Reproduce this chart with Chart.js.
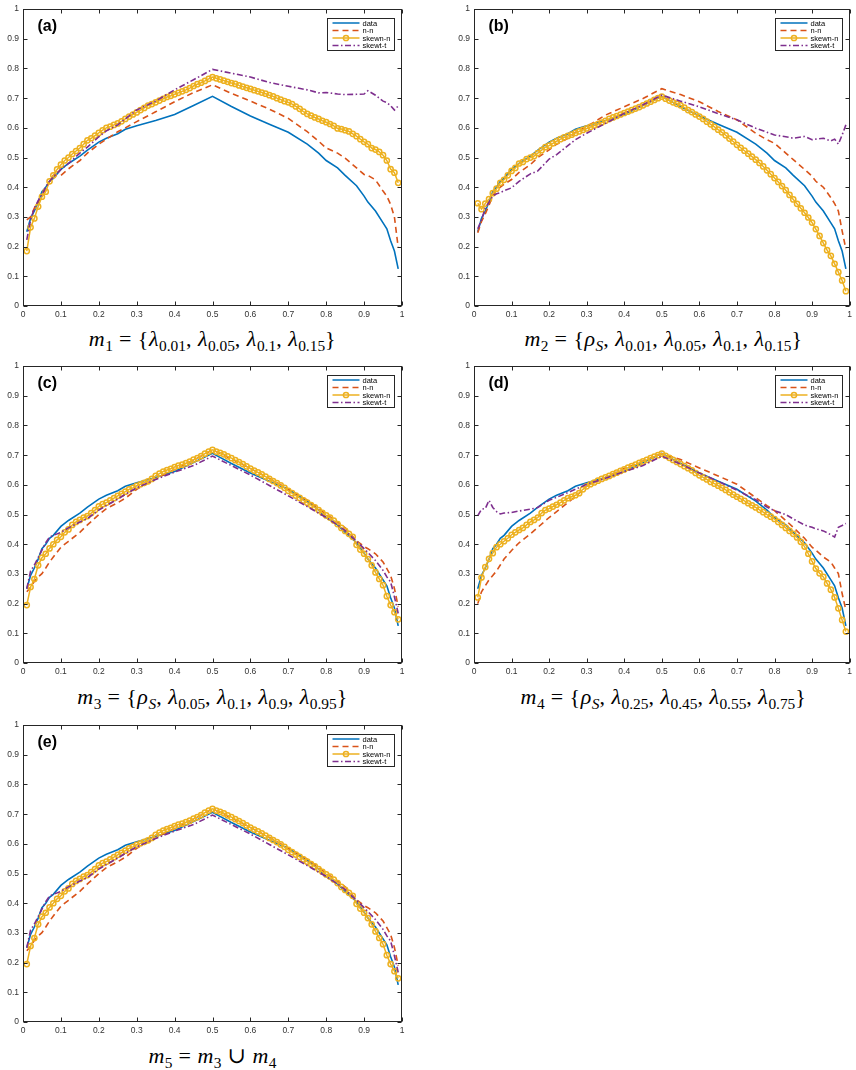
<!DOCTYPE html>
<html>
<head>
<meta charset="utf-8">
<script src="https://cdn.jsdelivr.net/npm/chart.js@4.4.1/dist/chart.umd.min.js"></script>
<style>
  html, body { margin: 0; padding: 0; background: #fff; overflow: hidden; }
  body { width: 856px; height: 1070px; position: relative; }
  .panel { position: absolute; }
  .cap {
    position: absolute; text-align: center; white-space: nowrap;
    font-family: "Liberation Serif", "DejaVu Serif", serif; font-size: 22px;
    letter-spacing: 0.5px; line-height: 22px; height: 22px; color: #000;
  }
  .cap sub { font-size: 70%; vertical-align: -0.35em; line-height: 0; letter-spacing: 0; }
</style>
</head>
<body>
<canvas class="panel" id="chartA" width="410" height="322" style="left:0;top:0"></canvas>
<canvas class="panel" id="chartB" width="405" height="322" style="left:451px;top:0"></canvas>
<canvas class="panel" id="chartC" width="410" height="322" style="left:0;top:357px"></canvas>
<canvas class="panel" id="chartD" width="405" height="322" style="left:451px;top:357px"></canvas>
<canvas class="panel" id="chartE" width="410" height="322" style="left:0;top:716px"></canvas>

<div class="cap" style="left:23px;width:379px;top:328px"><i>m</i><sub>1</sub> = {<i>λ</i><sub>0.01</sub>, <i>λ</i><sub>0.05</sub>, <i>λ</i><sub>0.1</sub>, <i>λ</i><sub>0.15</sub>}</div>
<div class="cap" style="left:474px;width:379px;top:328px"><i>m</i><sub>2</sub> = {<i>ρ<sub>S</sub></i>, <i>λ</i><sub>0.01</sub>, <i>λ</i><sub>0.05</sub>, <i>λ</i><sub>0.1</sub>, <i>λ</i><sub>0.15</sub>}</div>
<div class="cap" style="left:23px;width:379px;top:686px"><i>m</i><sub>3</sub> = {<i>ρ<sub>S</sub></i>, <i>λ</i><sub>0.05</sub>, <i>λ</i><sub>0.1</sub>, <i>λ</i><sub>0.9</sub>, <i>λ</i><sub>0.95</sub>}</div>
<div class="cap" style="left:474px;width:379px;top:686px"><i>m</i><sub>4</sub> = {<i>ρ<sub>S</sub></i>, <i>λ</i><sub>0.25</sub>, <i>λ</i><sub>0.45</sub>, <i>λ</i><sub>0.55</sub>, <i>λ</i><sub>0.75</sub>}</div>
<div class="cap" style="left:23px;width:379px;top:1045px"><i>m</i><sub>5</sub> = <i>m</i><sub>3</sub> ∪ <i>m</i><sub>4</sub></div>

<script>
// x positions used by the plain lines (data, n-n, skewt-t)
const lineX = [0.01, 0.02, 0.03, 0.04, 0.05, 0.06, 0.07, 0.08, 0.10, 0.12,
  0.15, 0.17, 0.20, 0.22, 0.25, 0.27, 0.30, 0.35, 0.40, 0.45,
  0.50, 0.55, 0.60, 0.65, 0.70, 0.75, 0.78, 0.80, 0.83, 0.85,
  0.88, 0.90, 0.91, 0.93, 0.95, 0.96, 0.97, 0.98, 0.99];

// x positions of the skewn-n markers
const markX = [0.01, 0.02, 0.03, 0.04, 0.05, 0.06, 0.07, 0.08, 0.09, 0.10,
  0.11, 0.12, 0.13, 0.14, 0.15, 0.16, 0.17, 0.18, 0.19, 0.20,
  0.21, 0.22, 0.23, 0.24, 0.25, 0.26, 0.27, 0.28, 0.29, 0.30,
  0.31, 0.32, 0.33, 0.34, 0.35, 0.36, 0.37, 0.38, 0.39, 0.40,
  0.41, 0.42, 0.43, 0.44, 0.45, 0.46, 0.47, 0.48, 0.49, 0.50,
  0.51, 0.52, 0.53, 0.54, 0.55, 0.56, 0.57, 0.58, 0.59, 0.60,
  0.61, 0.62, 0.63, 0.64, 0.65, 0.66, 0.67, 0.68, 0.69, 0.70,
  0.71, 0.72, 0.73, 0.74, 0.75, 0.76, 0.77, 0.78, 0.79, 0.80,
  0.81, 0.82, 0.83, 0.84, 0.85, 0.86, 0.87, 0.88, 0.89, 0.90,
  0.91, 0.92, 0.93, 0.94, 0.95, 0.96, 0.97, 0.98, 0.99];

const xTicks = [0, 0.1, 0.2, 0.3, 0.4, 0.5, 0.6, 0.7, 0.8, 0.9, 1];
const yTicks = [0, 0.1, 0.2, 0.3, 0.4, 0.5, 0.6, 0.7, 0.8, 0.9, 1];
const seriesNames = ["data", "n-n", "skewn-n", "skewt-t"];

// empirical curve, the same in every panel
const dataY = [0.25, 0.295, 0.32, 0.35, 0.385, 0.40, 0.42, 0.43, 0.46, 0.48,
  0.505, 0.525, 0.552, 0.565, 0.58, 0.595, 0.607, 0.625, 0.645, 0.675,
  0.706, 0.672, 0.64, 0.612, 0.585, 0.545, 0.515, 0.49, 0.465, 0.44,
  0.405, 0.37, 0.35, 0.32, 0.28, 0.26, 0.22, 0.185, 0.125];

// panel (a)
const nnA = [0.29, 0.30, 0.33, 0.35, 0.37, 0.395, 0.42, 0.44, 0.44, 0.462,
  0.49, 0.515, 0.545, 0.562, 0.587, 0.60, 0.621, 0.654, 0.688, 0.719,
  0.745, 0.716, 0.69, 0.663, 0.632, 0.587, 0.555, 0.532, 0.515, 0.498,
  0.465, 0.443, 0.44, 0.425, 0.387, 0.37, 0.342, 0.30, 0.197];
const stA = [0.223, 0.29, 0.33, 0.355, 0.375, 0.40, 0.42, 0.435, 0.46, 0.48,
  0.515, 0.535, 0.57, 0.59, 0.61, 0.63, 0.66, 0.69, 0.728, 0.762,
  0.797, 0.784, 0.771, 0.753, 0.74, 0.728, 0.718, 0.719, 0.714, 0.712,
  0.713, 0.714, 0.725, 0.71, 0.69, 0.685, 0.675, 0.66, 0.674];
const snA = [0.185, 0.265, 0.295, 0.335, 0.368, 0.385, 0.42, 0.44, 0.46, 0.476,
  0.49, 0.50, 0.512, 0.522, 0.532, 0.545, 0.558, 0.565, 0.574, 0.583,
  0.592, 0.60, 0.604, 0.61, 0.615, 0.622, 0.63, 0.638, 0.645, 0.652,
  0.66, 0.667, 0.675, 0.68, 0.686, 0.692, 0.698, 0.704, 0.708, 0.713,
  0.718, 0.723, 0.728, 0.734, 0.741, 0.747, 0.752, 0.758, 0.765, 0.771,
  0.767, 0.763, 0.759, 0.755, 0.751, 0.748, 0.743, 0.739, 0.735, 0.731,
  0.727, 0.723, 0.719, 0.715, 0.71, 0.706, 0.70, 0.695, 0.69, 0.686,
  0.68, 0.672, 0.664, 0.655, 0.647, 0.641, 0.635, 0.63, 0.624, 0.619,
  0.613, 0.607, 0.598, 0.596, 0.592, 0.588, 0.58, 0.572, 0.562, 0.553,
  0.545, 0.532, 0.527, 0.519, 0.508, 0.49, 0.461, 0.449, 0.415];

// panel (b)
const nnB = [0.247, 0.285, 0.31, 0.34, 0.37, 0.39, 0.40, 0.41, 0.426, 0.45,
  0.476, 0.5, 0.526, 0.545, 0.565, 0.585, 0.604, 0.643, 0.671, 0.699,
  0.732, 0.712, 0.688, 0.655, 0.627, 0.582, 0.56, 0.548, 0.515, 0.493,
  0.46, 0.437, 0.42, 0.40, 0.365, 0.345, 0.32, 0.253, 0.192];
const stB = [0.26, 0.29, 0.33, 0.35, 0.37, 0.378, 0.382, 0.388, 0.398, 0.42,
  0.445, 0.455, 0.495, 0.51, 0.54, 0.56, 0.582, 0.615, 0.649, 0.678,
  0.71, 0.69, 0.671, 0.648, 0.627, 0.599, 0.585, 0.576, 0.57, 0.565,
  0.571, 0.56, 0.562, 0.565, 0.556, 0.562, 0.545, 0.576, 0.61];
const snB = [0.346, 0.326, 0.345, 0.36, 0.38, 0.395, 0.415, 0.425, 0.44, 0.455,
  0.465, 0.48, 0.485, 0.495, 0.50, 0.505, 0.515, 0.525, 0.535, 0.54,
  0.548, 0.555, 0.562, 0.568, 0.573, 0.577, 0.583, 0.588, 0.593, 0.598,
  0.603, 0.608, 0.613, 0.618, 0.624, 0.63, 0.635, 0.64, 0.645, 0.65,
  0.655, 0.66, 0.665, 0.67, 0.676, 0.682, 0.688, 0.694, 0.70, 0.705,
  0.698, 0.692, 0.686, 0.681, 0.676, 0.668, 0.66, 0.653, 0.645, 0.638,
  0.63, 0.621, 0.612, 0.603, 0.594, 0.585, 0.575, 0.564, 0.554, 0.543,
  0.533, 0.523, 0.513, 0.503, 0.493, 0.482, 0.47, 0.457, 0.444, 0.431,
  0.418, 0.404, 0.39, 0.374, 0.359, 0.344, 0.329, 0.314, 0.298, 0.281,
  0.259, 0.236, 0.212, 0.188, 0.169, 0.142, 0.114, 0.086, 0.05];

// panel (c) -- panel (e) looks the same, so it reuses these
const nnC = [0.24, 0.255, 0.275, 0.29, 0.301, 0.32, 0.34, 0.357, 0.39, 0.41,
  0.44, 0.465, 0.50, 0.52, 0.54, 0.555, 0.585, 0.62, 0.652, 0.683,
  0.718, 0.687, 0.655, 0.622, 0.585, 0.548, 0.522, 0.50, 0.475, 0.455,
  0.412, 0.392, 0.385, 0.368, 0.34, 0.318, 0.295, 0.251, 0.19];
const stC = [0.25, 0.31, 0.33, 0.355, 0.38, 0.405, 0.424, 0.43, 0.44, 0.455,
  0.475, 0.487, 0.515, 0.53, 0.552, 0.568, 0.59, 0.618, 0.643, 0.665,
  0.697, 0.665, 0.633, 0.598, 0.563, 0.527, 0.505, 0.49, 0.465, 0.446,
  0.41, 0.385, 0.372, 0.345, 0.312, 0.29, 0.273, 0.223, 0.167];
const snC = [0.195, 0.256, 0.283, 0.329, 0.355, 0.368, 0.386, 0.40, 0.415, 0.425,
  0.44, 0.45, 0.465, 0.475, 0.482, 0.49, 0.495, 0.505, 0.515, 0.528,
  0.535, 0.54, 0.548, 0.555, 0.563, 0.57, 0.577, 0.585, 0.59, 0.597,
  0.602, 0.607, 0.612, 0.62, 0.63, 0.638, 0.645, 0.65, 0.654, 0.66,
  0.665, 0.668, 0.673, 0.678, 0.685, 0.69, 0.697, 0.705, 0.712, 0.718,
  0.712, 0.708, 0.703, 0.696, 0.69, 0.683, 0.677, 0.67, 0.662, 0.655,
  0.648, 0.642, 0.635, 0.628, 0.62, 0.613, 0.606, 0.598, 0.59, 0.58,
  0.572, 0.564, 0.556, 0.548, 0.54, 0.532, 0.524, 0.515, 0.506, 0.497,
  0.49, 0.48, 0.468, 0.455, 0.445, 0.435, 0.425, 0.398, 0.382, 0.368,
  0.35, 0.329, 0.305, 0.283, 0.262, 0.225, 0.195, 0.171, 0.147];

// panel (d)
const nnD = [0.2, 0.24, 0.26, 0.28, 0.295, 0.31, 0.33, 0.35, 0.379, 0.405,
  0.435, 0.457, 0.49, 0.51, 0.541, 0.56, 0.596, 0.625, 0.655, 0.68,
  0.705, 0.685, 0.657, 0.63, 0.602, 0.557, 0.53, 0.513, 0.48, 0.457,
  0.42, 0.39, 0.38, 0.357, 0.34, 0.32, 0.301, 0.234, 0.178];
const stD = [0.496, 0.518, 0.52, 0.548, 0.524, 0.51, 0.502, 0.505, 0.507, 0.512,
  0.518, 0.524, 0.548, 0.558, 0.574, 0.585, 0.602, 0.622, 0.645, 0.665,
  0.697, 0.67, 0.64, 0.612, 0.582, 0.55, 0.525, 0.513, 0.50, 0.485,
  0.465, 0.457, 0.452, 0.445, 0.432, 0.424, 0.457, 0.463, 0.47];
const snD = [0.221, 0.288, 0.323, 0.351, 0.37, 0.39, 0.40, 0.41, 0.42, 0.432,
  0.44, 0.448, 0.455, 0.465, 0.475, 0.482, 0.49, 0.505, 0.515, 0.52,
  0.527, 0.533, 0.54, 0.548, 0.555, 0.56, 0.565, 0.572, 0.585, 0.595,
  0.602, 0.608, 0.614, 0.62, 0.625, 0.63, 0.636, 0.641, 0.647, 0.652,
  0.658, 0.663, 0.668, 0.674, 0.679, 0.684, 0.69, 0.695, 0.70, 0.705,
  0.698, 0.691, 0.684, 0.677, 0.67, 0.663, 0.656, 0.649, 0.64, 0.632,
  0.625, 0.618, 0.61, 0.604, 0.597, 0.59, 0.583, 0.575, 0.567, 0.56,
  0.553, 0.546, 0.538, 0.531, 0.524, 0.516, 0.508, 0.50, 0.493, 0.485,
  0.475, 0.465, 0.455, 0.445, 0.435, 0.423, 0.408, 0.392, 0.368, 0.342,
  0.318, 0.302, 0.29, 0.268, 0.247, 0.221, 0.184, 0.145, 0.106];

const colors = ["#0072BD", "#D95319", "#EDB120", "#7E2F8E"];
const dashes = [[], [6, 4], [], [6, 2.5, 1.5, 2.5]];
const axisColor = "#262626";

Chart.defaults.font.family = '"Liberation Sans", Arial, sans-serif';
Chart.defaults.color = "#333";

function pts(xs, ys) {
  return xs.map((x, i) => ({ x: x, y: ys[i] }));
}

// box, inward ticks, panel tag and the little legend
const framePlugin = {
  id: "frame",
  afterDatasetsDraw(chart, args, opts) {
    const ctx = chart.ctx;
    const a = chart.chartArea;
    const xs = chart.scales.x, ys = chart.scales.y;
    const L = Math.round(a.left) + 0.5, R = Math.round(a.right) - 0.5;
    const T = Math.round(a.top) + 0.5, B = Math.round(a.bottom) - 0.5;
    const tl = 4;
    ctx.save();
    ctx.strokeStyle = axisColor;
    ctx.lineWidth = 1;
    ctx.setLineDash([]);
    ctx.strokeRect(L, T, R - L, B - T);
    ctx.beginPath();
    xTicks.forEach(v => {
      const px = Math.round(xs.getPixelForValue(v)) + 0.5;
      ctx.moveTo(px, B); ctx.lineTo(px, B - tl);
      ctx.moveTo(px, T); ctx.lineTo(px, T + tl);
    });
    yTicks.forEach(v => {
      const py = Math.round(ys.getPixelForValue(v)) + 0.5;
      ctx.moveTo(L, py); ctx.lineTo(L + tl, py);
      ctx.moveTo(R, py); ctx.lineTo(R - tl, py);
    });
    ctx.stroke();

    // panel tag
    ctx.fillStyle = "#000";
    ctx.font = 'bold 16px "Liberation Sans", Arial, sans-serif';
    ctx.textBaseline = "middle";
    ctx.textAlign = "left";
    ctx.fillText(opts.tag, a.left + 14.5, a.top + 17.5);

    // legend
    const bx = Math.round(a.right) - 75 + 0.5, by = Math.round(a.top) + 9 + 0.5;
    const bw = 67, bh = 32;
    ctx.fillStyle = "#fff";
    ctx.fillRect(bx, by, bw, bh);
    ctx.strokeStyle = axisColor;
    ctx.strokeRect(bx, by, bw, bh);
    ctx.font = '7.5px "Liberation Sans", Arial, sans-serif';
    seriesNames.forEach((name, i) => {
      const yy = by + 4.5 + i * 7.5;
      ctx.strokeStyle = colors[i];
      ctx.lineWidth = 1.5;
      ctx.setLineDash(dashes[i]);
      ctx.beginPath();
      ctx.moveTo(bx + 5, yy);
      ctx.lineTo(bx + 32, yy);
      ctx.stroke();
      ctx.setLineDash([]);
      if (i === 2) {
        ctx.beginPath();
        ctx.arc(bx + 18.5, yy, 2.6, 0, Math.PI * 2);
        ctx.stroke();
      }
      ctx.fillStyle = "#000";
      ctx.fillText(name, bx + 35, yy + 0.5);
    });
    ctx.restore();
  }
};

const panels = [
  { id: "chartA", tag: "(a)", nn: nnA, sn: snA, st: stA },
  { id: "chartB", tag: "(b)", nn: nnB, sn: snB, st: stB },
  { id: "chartC", tag: "(c)", nn: nnC, sn: snC, st: stC },
  { id: "chartD", tag: "(d)", nn: nnD, sn: snD, st: stD },
  { id: "chartE", tag: "(e)", nn: nnC, sn: snC, st: stC }
];

panels.forEach(p => {
  const canvas = document.getElementById(p.id);
  const rightPad = canvas.width - 23 - 379;
  new Chart(canvas, {
    type: "line",
    data: {
      datasets: [
        { label: seriesNames[0], data: pts(lineX, dataY), borderColor: colors[0],
          borderWidth: 1.6, pointRadius: 0, order: 4 },
        { label: seriesNames[1], data: pts(lineX, p.nn), borderColor: colors[1],
          borderWidth: 1.6, borderDash: dashes[1], pointRadius: 0, order: 3 },
        { label: seriesNames[2], data: pts(markX, p.sn), borderColor: colors[2],
          borderWidth: 1.5, pointRadius: 2.6, pointBorderWidth: 1.5,
          pointBorderColor: colors[2], pointBackgroundColor: "rgba(255,255,255,0)", order: 2 },
        { label: seriesNames[3], data: pts(lineX, p.st), borderColor: colors[3],
          borderWidth: 1.6, borderDash: dashes[3], pointRadius: 0, order: 1 }
      ]
    },
    options: {
      responsive: false,
      animation: false,
      events: [],
      layout: { padding: { top: 7, right: rightPad, left: 0, bottom: 0 } },
      plugins: {
        legend: { display: false },
        tooltip: { enabled: false },
        frame: { tag: p.tag }
      },
      scales: {
        x: {
          type: "linear", min: 0, max: 1,
          afterFit: s => { s.height = 16; },
          afterBuildTicks: s => { s.ticks = xTicks.map(v => ({ value: v })); },
          grid: { display: false, drawTicks: false },
          border: { display: false },
          ticks: { padding: 4, font: { size: 8.5 }, color: "#333", maxRotation: 0,
            callback: v => String(+v.toFixed(2)) }
        },
        y: {
          type: "linear", min: 0, max: 1,
          afterFit: s => { s.width = 23; },
          afterBuildTicks: s => { s.ticks = yTicks.map(v => ({ value: v })); },
          grid: { display: false, drawTicks: false },
          border: { display: false },
          ticks: { padding: 4, font: { size: 8.5 }, color: "#333",
            callback: v => String(+v.toFixed(2)) }
        }
      }
    },
    plugins: [framePlugin]
  });
});
</script>
</body>
</html>
